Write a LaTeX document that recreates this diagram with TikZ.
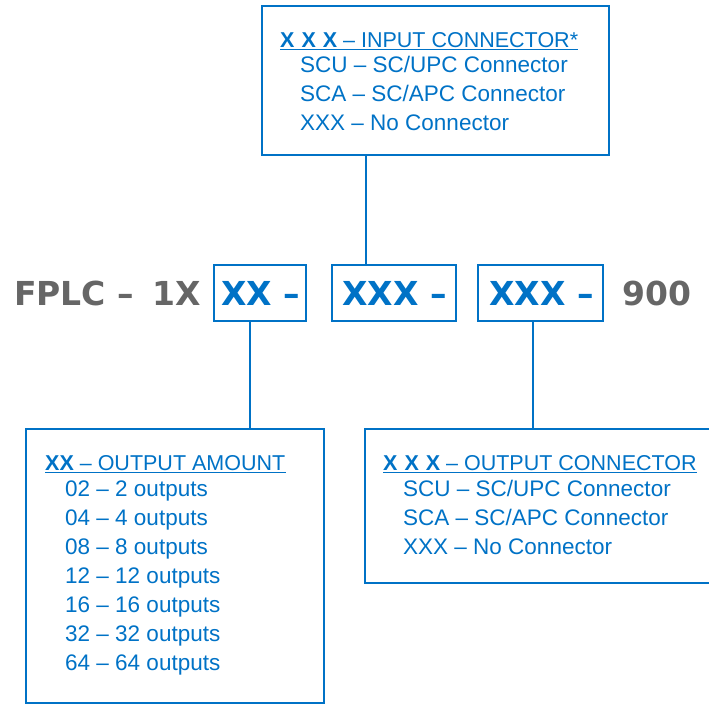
\documentclass[tikz,border=0pt]{standalone}
\usepackage{fontspec}
\setmainfont{Liberation Sans}
\newfontfamily\bigfont{DejaVu Sans}
\usepackage{tikz}
\usetikzlibrary{calc}
\usetikzlibrary{positioning}
\definecolor{fplblue}{RGB}{0,114,198}
\definecolor{fplgray}{RGB}{102,102,102}

\begin{document}
\begin{tikzpicture}[
	x=1pt, y=-1pt,
  box/.style = {draw=fplblue,line width=2.4pt,inner sep=0pt,rectangle},
  link/.style = {draw=fplblue,line width=2.4pt},
  uline/.style = {draw=fplblue,line width=1.4pt},
  txt/.style = {anchor=base west,inner sep=0pt,text=fplblue,font=\fontsize{22.5}{27}\selectfont},
  hdr/.style = {txt,font=\fontsize{21.5}{26}\selectfont},
  big/.style = {anchor=base west,inner sep=0pt,font=\bigfont\fontsize{33}{40}\selectfont\bfseries}
  ]
	\useasboundingbox (0,0) rectangle (709,705);
	\clip (0,0) rectangle (709,705);

	\node[box, minimum width=347, minimum height=149] (inbox) at (435.5,80.5) {};
	\node[box, minimum width=92, minimum height=56] (xx) at (260,293) {};
	\node[box, minimum width=124, minimum height=56] (inx) at (394,293) {};
	\node[box, minimum width=125, minimum height=56] (outx) at (540.5,293) {};
	\node[box, minimum width=298, minimum height=274] (amt) at (175,566) {};
	\node[box, minimum width=375, minimum height=154] (outc) at (552.5,506) {};

	\coordinate (ca) at (366,0);
	\coordinate (cb) at (250,0);
	\coordinate (cc) at (533,0);

	\draw[link] (inbox.south -| ca) -- (inx.north -| ca);
	\draw[link] (xx.south -| cb) -- (amt.north -| cb);
	\draw[link] (outx.south -| cc) -- (outc.north -| cc);

	\node[big, text=fplgray] (fplc) at (14,305) {FPLC –};
	\node[big, text=fplgray] (onex) at (152,305) {1X};
	\node[big, text=fplblue] (xxt) at (221,305) {XX –};
	\node[big, text=fplblue] (inxt) at (342,305) {XXX –};
	\node[big, text=fplblue] (outxt) at (489,305) {XXX –};
	\node[big, text=fplgray] (nine) at (622,305) {900};

	\node[hdr] (inhdr) at (280,47) {{\bfseries X\hspace{7pt}X\hspace{7pt}X} – INPUT CONNECTOR*};
	\draw[uline] ($(inhdr.base west)+(0,2.5)$) -- ($(inhdr.base east)+(0,2.5)$);
	\foreach \t [count=\i] in {SCU – SC/UPC Connector, SCA – SC/APC Connector, XXX – No Connector}
		\node[txt] (in\i) at (300,43+29*\i) {\t};

	\node[hdr] (amthdr) at (45,470) {{\bfseries XX} – OUTPUT AMOUNT};
	\draw[uline] ($(amthdr.base west)+(0,2.5)$) -- ($(amthdr.base east)+(0,2.5)$);
	\foreach \n/\m [count=\i] in {02/2, 04/4, 08/8, 12/12, 16/16, 32/32, 64/64}
		\node[txt] (amt\i) at (65,467+29*\i) {\n\ – \m\ outputs};

	\node[hdr] (outhdr) at (383,470) {{\bfseries X\hspace{7pt}X\hspace{7pt}X} – OUTPUT CONNECTOR};
	\draw[uline] ($(outhdr.base west)+(0,2.5)$) -- ($(outhdr.base east)+(0,2.5)$);
	\foreach \t [count=\i] in {SCU – SC/UPC Connector, SCA – SC/APC Connector, XXX – No Connector}
		\node[txt] (out\i) at (403,467+29*\i) {\t};
\end{tikzpicture}
\end{document}
